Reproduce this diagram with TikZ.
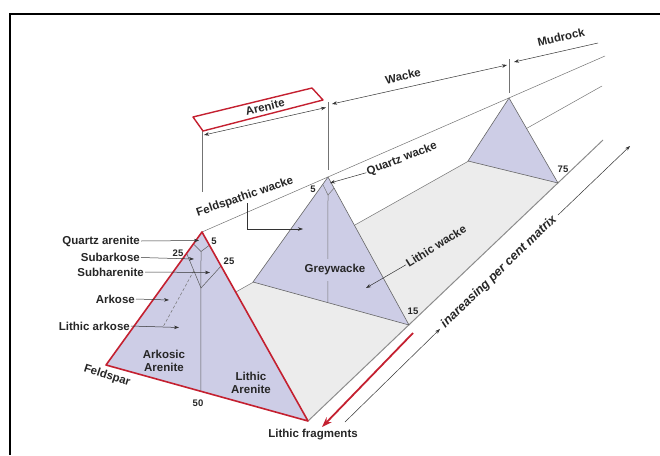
\documentclass[tikz,border=0pt]{standalone}
\usepackage{fontspec}
\setmainfont{Liberation Sans}
\usetikzlibrary{arrows.meta,calc}
\definecolor{prism}{RGB}{205,205,230}
\definecolor{floorgray}{RGB}{236,236,236}
\definecolor{arenred}{RGB}{196,32,48}

\begin{document}
\begin{tikzpicture}[
    x=1pt, y=-1pt,
    every node/.style={font=\fontsize{11.5}{13}\selectfont\bfseries, text=black!85, inner sep=1pt},
    num/.style={font=\fontsize{9.5}{11}\selectfont\bfseries},
    face/.style={fill=prism, draw=black!60, line width=0.6pt, line join=round},
    guide/.style={draw=black!55, line width=0.5pt},
    arr/.style={draw=black!80, line width=0.5pt, -{Stealth[length=5pt,width=3.5pt]}},
    dbl/.style={arr, {Stealth[length=5pt,width=3.5pt]}-{Stealth[length=5pt,width=3.5pt]}},
    redline/.style={draw=arenred, line width=1.6pt, line join=round},
]
\useasboundingbox (0,0) rectangle (660,455);
% page frame, cut at the right and bottom
\draw[line width=2.6pt] (660,14) -- (10,14) -- (10,455);

% corners of the three sections
\coordinate (A1) at (202,232); \coordinate (F1) at (106,365); \coordinate (L1) at (308,421);
\coordinate (A2) at (328,177); \coordinate (F2) at (253,282); \coordinate (L2) at (409,325);
\coordinate (A3) at (509,98);  \coordinate (F3) at (468,161); \coordinate (L3) at (558,183);
\coordinate (Ax) at (605,56);  \coordinate (Fx) at (602,86);  \coordinate (Lx) at (603,140);

% floor and ridge
\fill[floorgray] (F1) -- (F3) -- (L3) -- (L1) -- cycle;
\draw[guide] (F1) -- (Fx);
\draw[guide, draw=black!45, line width=1pt] (L1) -- (Lx);
\draw[guide] (A1) -- (Ax);

% back and middle sections
\filldraw[face] (A3) -- (F3) -- (L3) -- cycle;
\filldraw[face] (A2) -- (F2) -- (L2) -- cycle;
\coordinate (m5l) at ($(A2)!0.07!(F2)$);
\coordinate (m5r) at ($(A2)!0.075!(L2)$);
\coordinate (m5b) at (328,195);
\coordinate (mB) at ($(F2)!0.48!(L2)$);
\draw[guide] (m5l) -- (m5b) -- (m5r);
\draw[guide] (m5b) -- (mB);

% front section
\fill[prism] (A1) -- (F1) -- (L1) -- cycle;
\coordinate (q5l) at ($(A1)!0.09!(F1)$);
\coordinate (q5r) at ($(A1)!0.07!(L1)$);
\coordinate (q5b) at (201,251.5);
\coordinate (q25l) at ($(A1)!0.16!(F1)$);
\coordinate (q25r) at ($(A1)!0.18!(L1)$);
\coordinate (q25b) at (201,288);
\coordinate (fB) at ($(F1)!0.47!(L1)$);
\coordinate (dsh) at (163,327);
\draw[guide, draw=black!65] (q5l) -- (q5b) -- (q5r);
\draw[guide, draw=black!65] (q25l) -- (q25b) -- (q25r);
\draw[guide, draw=black!65] (q5b) -- (fB);
\draw[guide, densely dashed] ($(q25l)!0.5!(q25b)$) -- (dsh);
\draw[redline] (A1) -- (F1) -- (L1) -- cycle;

% guides above the apexes
\draw[guide] (A1 |- 0,131) -- (A1 |- 0,192);
\draw[guide] (A2 |- 0,102) -- (A2 |- 0,170);
\draw[guide] (A3 |- 0,59) -- (A3 |- 0,93);

% top labels
\node[rotate=13.5] (aren) at (265,107) {Arenite};
\draw[redline, line width=1.4pt] (193,117) -- (312,88) -- (323,100) -- (203,131) -- cycle;
\coordinate (arL) at (204,135); \coordinate (arR) at (326,107.5);
\draw[dbl] (arL) -- (arR);
\node[rotate=13] (wk) at (403,76) {Wacke};
\coordinate (wkL) at (332,104); \coordinate (wkR) at (507,65);
\draw[dbl] (wkL) -- (wkR);
\node[rotate=13] (mud) at (561,37) {Mudrock};
\coordinate (mudS) at (598,43); \coordinate (mudT) at (514,62);
\draw[arr] (mudS) -- (mudT);

% wacke fields
\node[rotate=19] (fw) at (245,197) {Feldspathic wacke};
\coordinate (fwT) at (303,229);
\draw[arr] (fw.south) |- (fwT);
\node[rotate=21] (qw) at (402,159) {Quartz wacke};
\coordinate (qwT) at (330,183);
\draw[arr] (qw.west) -- (qwT);
\node[rotate=32] (lw) at (436,246) {Lithic wacke};
\coordinate (lwT) at (366,288);
\draw[arr] (lw.west) -- (lwT);
\node[fill=prism, inner ysep=5.5pt] (gw) at (335,270) {Greywacke};

% arenite fields
\node[anchor=east] (qa) at (141,241) {Quartz arenite};
\node[anchor=east] (sk) at (141,257.5) {Subarkose};
\node[anchor=east] (sh) at (145,272) {Subharenite};
\node[anchor=east] (ak) at (136,299) {Arkose};
\node[anchor=east] (lk) at (131,326) {Lithic arkose};
\coordinate (qaT) at (199,240.5);
\coordinate (skT) at (194,259);
\coordinate (shT) at (210,272.5);
\coordinate (akT) at (169,300);
\coordinate (lkT) at (179,327.5);
\draw[arr] (qa.east) -- (qaT);
\draw[arr] (sk.east) -- (skT);
\draw[arr] (sh.east) -- (shT);
\draw[arr] (ak.east) -- (akT);
\draw[arr] (lk.east) -- (lkT);
\node[align=center] (ark) at (164,361) {Arkosic\\Arenite};
\node[align=center] (lar) at (251,383) {Lithic\\Arenite};
\node[rotate=-18] (fsp) at (107,376) {Feldspar};
\node (lfr) at (313,435) {Lithic fragments};

% per cent values
\node[num] (n5a) at (214,241) {5};
\node[num] (n25a) at (178,253) {25};
\node[num] (n25b) at (229,261) {25};
\node[num] (n50) at (198,403) {50};
\node[num] (n5b) at (313,189) {5};
\node[num] (n15) at (413,311) {15};
\node[num] (n75) at (563,169) {75};

% matrix axis
\coordinate (rdS) at (413,333); \coordinate (rdT) at (322,427);
\draw[draw=arenred, line width=1.8pt, -{Stealth[length=10pt,width=7pt]}] (rdS) -- (rdT);
\node[rotate=44, inner sep=4pt, font=\fontsize{12.5}{14}\selectfont\bfseries\itshape] (mat) at (499,272) {inareasing per cent matrix};
\coordinate (matS) at (345,422); \coordinate (matE) at (630,146);
\draw[arr] (matS) -- (mat.west);
\draw[arr] (mat.east) -- (matE);
\end{tikzpicture}
\end{document}
